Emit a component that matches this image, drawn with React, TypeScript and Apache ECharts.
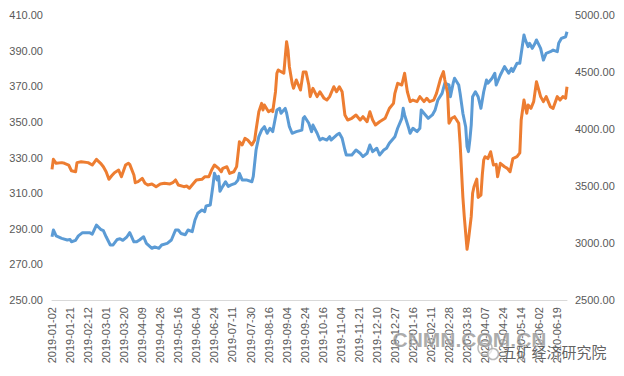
import React, { useEffect, useRef } from "react";
import * as echarts from "echarts";

const tickLabels = [
  "2019-01-02", "2019-01-21", "2019-02-12", "2019-03-01", "2019-03-20", "2019-04-09",
  "2019-04-26", "2019-05-16", "2019-06-04", "2019-06-24", "2019-07-11", "2019-07-30",
  "2019-08-16", "2019-09-04", "2019-09-24", "2019-10-16", "2019-11-04", "2019-11-21",
  "2019-12-10", "2019-12-27", "2020-01-16", "2020-02-11", "2020-02-28", "2020-03-18",
  "2020-04-07", "2020-04-24", "2020-05-14", "2020-06-02", "2020-06-19",
];
const tradingDaysPerLabel = 13;
const lastDay = 371;

// blue series (left axis), trading-day index
const blueDays = [0,1,3,7,11,13,14,17,19,22,27,29,32,35,37,39,42,44,47,49,51,54,56,59,61,63,66,68,72,74,77,79,83,86,89,91,93,96,98,101,103,105,108,110,111,114,116,117,119,120,121,123,125,127,129,132,134,135,137,140,144,145,147,149,151,153,155,157,159,162,164,165,168,169,171,173,176,180,181,182,185,187,188,191,193,195,198,200,201,205,207,209,211,212,216,219,222,224,227,229,231,234,236,239,241,243,247,249,252,253,254,257,258,260,263,265,266,269,271,274,276,278,281,283,286,287,289,290,293,294,296,298,299,300,301,302,303,305,307,309,311,313,314,317,319,320,323,326,329,331,332,335,337,340,341,343,344,346,348,349,352,354,356,359,361,364,365,367,370,371];
const blueValues = [285.5,289.3,286,284.6,283.7,284,282.7,283.5,286,287.8,287.8,287,292.1,289.7,289,285.5,280.9,280.9,284,284.4,283.5,285.5,287.8,282.7,282.7,283.7,285.5,281.8,279,279.8,279,280.9,281.8,283.7,289.3,289.3,287.3,286.6,289.3,288.4,294.9,298.7,300.5,299.6,302.8,303.3,314.6,321.1,317.4,319.4,311,313.8,316.4,313.8,314.6,315.5,317.4,321.1,317.4,317.4,316.4,319.4,334.2,341.7,345.4,347.3,343.6,346.4,344.5,356.7,357.6,354.8,357.6,355,347.3,343.6,344.5,345.4,352,352.9,349.2,344.5,348.2,343.6,339.8,340.8,339.8,341.7,339.8,342.6,343.6,340.8,334.2,331.4,331.4,334.2,332.4,330.5,332.4,337,333.3,335.2,331.4,334.2,335.2,338,341.7,346.4,352,357.6,353.9,346.4,343.6,346.4,344.5,346.4,356.7,353.9,352,353.9,356.7,362.3,366,371.7,370.7,364.1,371.7,374.5,370.7,366,354.8,347.3,336.1,333.3,339.8,348.2,364.1,366.9,364.1,357.6,366.9,373.5,371.7,374.5,377.3,370.7,376.3,381,377.3,380,378.3,382.9,382.9,398.8,396,392.2,394.1,391.3,394.1,396,391.3,384.7,388.5,389.4,390.3,389.4,394.1,396.9,397.8,400.6];

// orange series (right axis)
const orangeDays = [0,1,3,7,9,12,14,17,18,21,26,29,32,35,37,39,41,43,45,48,50,53,55,56,59,60,62,65,67,69,72,75,78,81,85,87,89,91,95,97,99,102,104,108,110,113,115,117,120,122,123,126,128,131,133,135,137,139,141,144,146,147,149,151,152,153,156,158,159,161,162,163,165,167,169,170,171,173,174,176,179,181,183,185,186,188,191,193,196,198,200,203,205,207,209,211,213,216,219,222,224,227,229,231,233,236,240,243,246,247,249,252,254,256,258,260,263,265,268,270,272,275,277,280,282,283,285,286,288,290,293,294,296,297,299,300,302,303,304,306,307,309,310,311,312,314,316,318,320,321,323,326,328,330,332,335,337,338,340,342,343,345,347,349,352,354,356,359,361,364,366,368,370,371];
const orangeValues = [3646,3734,3699,3705,3699,3684,3634,3625,3705,3713,3705,3684,3734,3699,3669,3625,3559,3590,3617,3640,3581,3684,3699,3690,3596,3529,3538,3567,3524,3509,3518,3494,3518,3524,3518,3529,3553,3509,3494,3500,3480,3524,3553,3559,3581,3581,3640,3684,3655,3625,3655,3669,3611,3625,3670,3889,3860,3918,3904,3860,3904,3991,4152,4225,4167,4211,4152,4167,4152,4327,4489,4518,4503,4489,4766,4693,4547,4401,4357,4430,4342,4500,4500,4386,4284,4357,4284,4327,4269,4254,4284,4371,4327,4371,4327,4123,4079,4094,4123,4079,4108,4064,4152,4079,4035,4064,4094,4180,4225,4313,4401,4386,4489,4327,4240,4254,4240,4284,4240,4269,4240,4254,4313,4445,4503,4430,4313,4050,4094,4108,4050,3874,3400,3231,2945,3026,3231,3436,3494,3560,3400,3420,3600,3728,3757,3740,3801,3684,3690,3581,3699,3669,3655,3625,3740,3757,3790,4079,4254,4138,4211,4181,4240,4415,4284,4240,4284,4196,4181,4284,4254,4284,4269,4371];

const leftMin = 250, leftMax = 410, leftStep = 20;
const rightMin = 2500, rightMax = 5000, rightStep = 500;

const blueColor = "#5B9BD5";
const orangeColor = "#ED7D31";
const labelColor = "#595959";
const fontFamily = "Liberation Sans, Arial, sans-serif";

export default function App() {
  const ref = useRef<HTMLDivElement>(null);
  useEffect(() => {
    if (!ref.current) return;
    const chart = echarts.init(ref.current, null, { renderer: "svg" });
    const blueData = blueDays.map((d, i) => [d, blueValues[i]]);
    const orangeData = orangeDays.map((d, i) => [d, orangeValues[i]]);
    chart.setOption({
      animation: false,
      backgroundColor: "#ffffff",
      grid: { left: 52, right: 57, top: 15, bottom: 76, containLabel: false },
      xAxis: {
        type: "value",
        min: 0,
        max: lastDay,
        interval: tradingDaysPerLabel,
        axisLine: { show: true, lineStyle: { color: "#D9D9D9", width: 1 } },
        axisTick: { show: false },
        splitLine: { show: false },
        axisLabel: {
          rotate: 90,
          margin: 7,
          fontSize: 11,
          fontFamily,
          color: labelColor,
          showMaxLabel: false,
          formatter: (v: number) => {
            const k = v / tradingDaysPerLabel;
            return Number.isInteger(k) && tickLabels[k] ? tickLabels[k] : "";
          },
        },
      },
      yAxis: [
        {
          type: "value",
          min: leftMin,
          max: leftMax,
          interval: leftStep,
          axisLine: { show: false },
          axisTick: { show: false },
          splitLine: { show: false },
          axisLabel: {
            margin: 9,
            fontSize: 11,
            fontFamily,
            color: labelColor,
            formatter: (v: number) => v.toFixed(2),
          },
        },
        {
          type: "value",
          min: rightMin,
          max: rightMax,
          interval: rightStep,
          position: "right",
          axisLine: { show: false },
          axisTick: { show: false },
          splitLine: { show: false },
          axisLabel: {
            margin: 8,
            fontSize: 11,
            fontFamily,
            color: labelColor,
            formatter: (v: number) => v.toFixed(2),
          },
        },
      ],
      series: [
        {
          type: "line",
          yAxisIndex: 0,
          data: blueData,
          showSymbol: false,
          symbol: "none",
          lineStyle: { color: blueColor, width: 3, join: "round" },
          itemStyle: { color: blueColor },
        },
        {
          type: "line",
          yAxisIndex: 1,
          data: orangeData,
          showSymbol: false,
          symbol: "none",
          lineStyle: { color: orangeColor, width: 3, join: "round" },
          itemStyle: { color: orangeColor },
        },
      ],
      graphic: [
        {
          type: "text",
          left: 392,
          top: 328,
          z: 100,
          style: {
            text: "CNMN.COM.CN",
            font: "bold 21px Liberation Sans, Arial, sans-serif",
            fill: "rgba(135,135,135,0.7)",
            stroke: "rgba(255,255,255,0.7)",
            lineWidth: 1,
          },
        },
        {
          type: "circle",
          z: 100,
          shape: { cx: 485, cy: 348, r: 7 },
          style: { fill: "none", stroke: "rgba(170,170,170,0.8)", lineWidth: 1.5 },
        },
        {
          type: "circle",
          z: 100,
          shape: { cx: 493, cy: 354, r: 5.5 },
          style: { fill: "rgba(255,255,255,0.6)", stroke: "rgba(170,170,170,0.8)", lineWidth: 1.5 },
        },
        {
          type: "text",
          left: 501,
          top: 343,
          z: 100,
          style: {
            text: "五矿经济研究院",
            font: "15px Noto Sans CJK SC, sans-serif",
            fill: "rgba(70,70,70,0.85)",
            stroke: "rgba(255,255,255,0.7)",
            lineWidth: 1,
          },
        },
      ],
    });
    return () => chart.dispose();
  }, []);
  return (
    <div
      ref={ref}
      style={{ position: "fixed", left: 0, top: 0, width: 624, height: 376, background: "#fff" }}
    />
  );
}
